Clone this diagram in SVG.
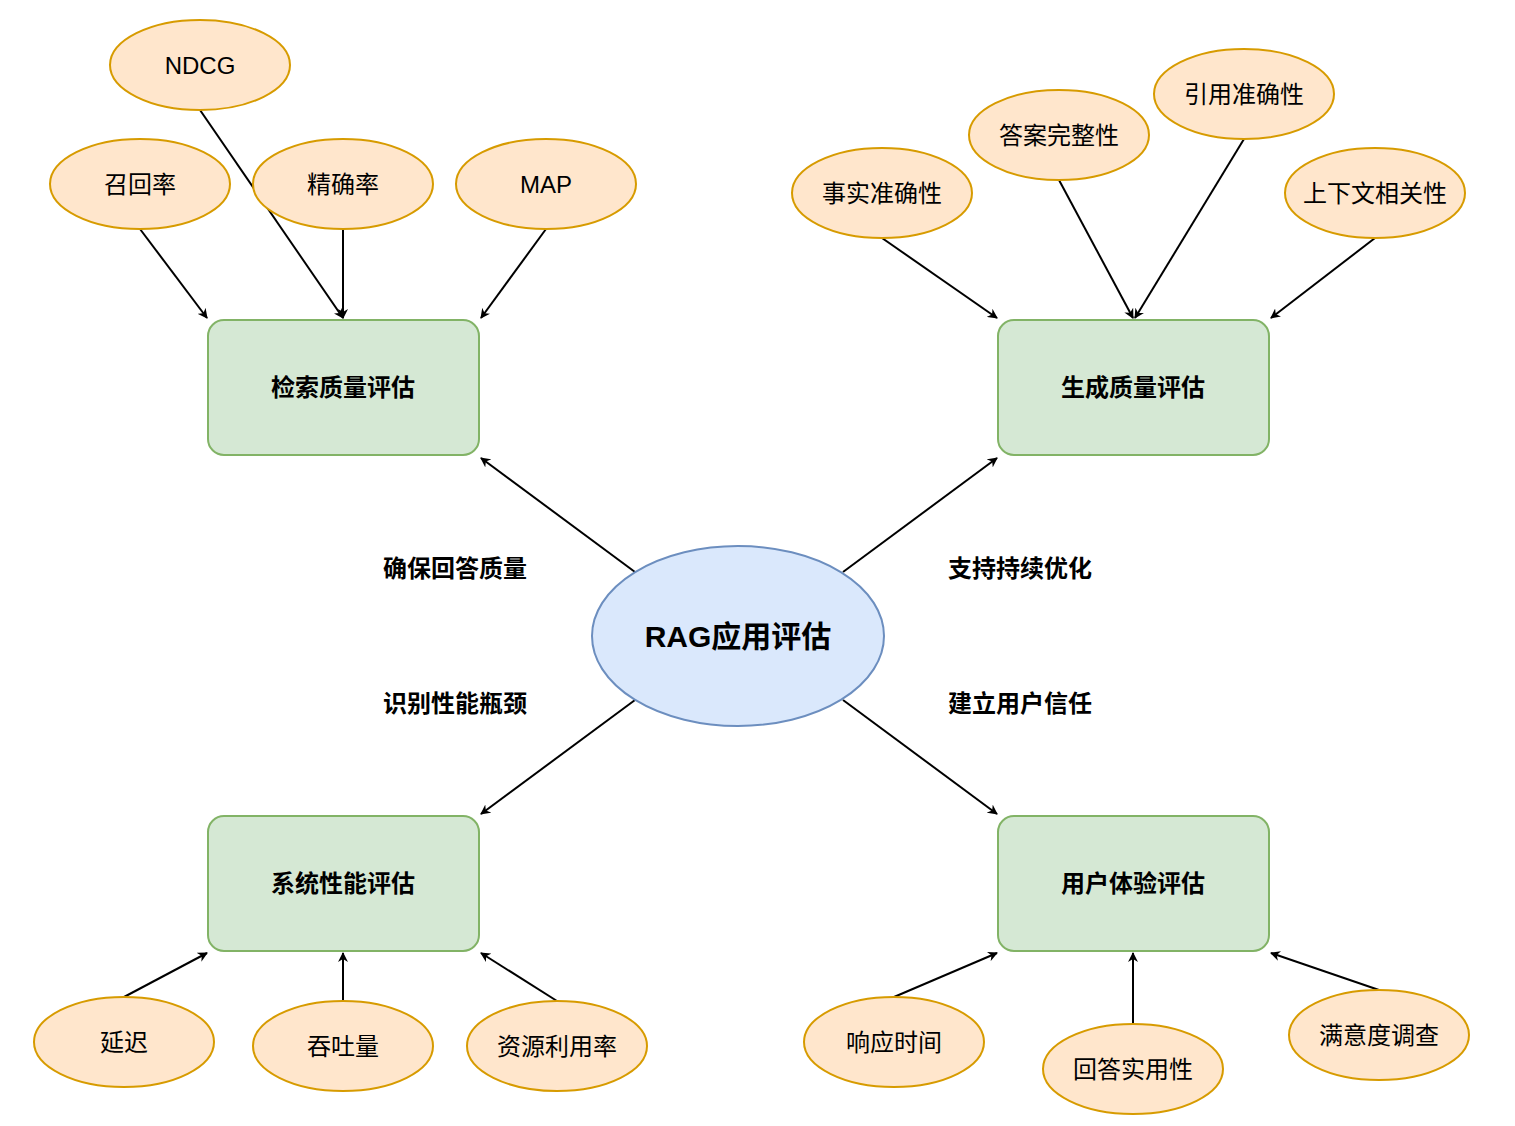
<svg xmlns="http://www.w3.org/2000/svg" width="1515" height="1126" viewBox="0 0 1515 1126">
<style>
text{font-family:"Liberation Sans","Noto Sans CJK SC",sans-serif;text-anchor:middle;dominant-baseline:central;fill:#000}
.o{fill:#ffe6cc;stroke:#d79b00;stroke-width:2}
.g{fill:#d5e8d4;stroke:#82b366;stroke-width:2}
.ot{font-size:24px}
.b{font-size:24px;font-weight:bold}
#edges line{stroke:#000;stroke-width:2;marker-end:url(#a)}
</style>
<defs><marker id="a" viewBox="0 0 10 10" refX="9" refY="5" markerWidth="10" markerHeight="10" markerUnits="userSpaceOnUse" orient="auto"><path d="M0,0 L10,5 L0,10 L3,5 z" fill="#000"/></marker></defs>
<rect width="1515" height="1126" fill="#fff"/>
<g id="edges">
<line x1="200" y1="110" x2="343" y2="318"/>
<line x1="140" y1="229" x2="207" y2="318"/>
<line x1="343" y1="229" x2="343" y2="318"/>
<line x1="546" y1="229" x2="481" y2="318"/>
<line x1="882" y1="238" x2="997" y2="318"/>
<line x1="1059" y1="180" x2="1133" y2="318"/>
<line x1="1244" y1="139" x2="1135" y2="318"/>
<line x1="1375" y1="238" x2="1271" y2="318"/>
<line x1="635" y1="572" x2="481" y2="458"/>
<line x1="843" y1="572" x2="997" y2="458"/>
<line x1="635" y1="700" x2="481" y2="814"/>
<line x1="843" y1="700" x2="997" y2="814"/>
<line x1="124" y1="997" x2="207" y2="953"/>
<line x1="343" y1="1001" x2="343" y2="953"/>
<line x1="557" y1="1001" x2="481" y2="953"/>
<line x1="894" y1="997" x2="997" y2="953"/>
<line x1="1133" y1="1024" x2="1133" y2="953"/>
<line x1="1379" y1="990" x2="1271" y2="953"/>
</g>
<g id="labels">
<text class="b" x="455" y="568">确保回答质量</text>
<text class="b" x="1020" y="568">支持持续优化</text>
<text class="b" x="455" y="703">识别性能瓶颈</text>
<text class="b" x="1020" y="703">建立用户信任</text>
</g>
<g id="center"><ellipse cx="738" cy="636" rx="146" ry="90" fill="#dae8fc" stroke="#6c8ebf" stroke-width="2"/><text x="738" y="636" style="font-size:30px;font-weight:bold">RAG应用评估</text></g>
<g id="n1"><rect class="g" x="208" y="320" width="271" height="135" rx="16"/><text class="b" x="343" y="387">检索质量评估</text></g>
<g id="n2"><rect class="g" x="998" y="320" width="271" height="135" rx="16"/><text class="b" x="1133" y="387">生成质量评估</text></g>
<g id="n3"><rect class="g" x="208" y="816" width="271" height="135" rx="16"/><text class="b" x="343" y="883">系统性能评估</text></g>
<g id="n4"><rect class="g" x="998" y="816" width="271" height="135" rx="16"/><text class="b" x="1133" y="883">用户体验评估</text></g>
<g id="e1"><ellipse class="o" cx="200" cy="65" rx="90" ry="45"/><text class="ot" x="200" y="65">NDCG</text></g>
<g id="e2"><ellipse class="o" cx="140" cy="184" rx="90" ry="45"/><text class="ot" x="140" y="184">召回率</text></g>
<g id="e3"><ellipse class="o" cx="343" cy="184" rx="90" ry="45"/><text class="ot" x="343" y="184">精确率</text></g>
<g id="e4"><ellipse class="o" cx="546" cy="184" rx="90" ry="45"/><text class="ot" x="546" y="184">MAP</text></g>
<g id="e5"><ellipse class="o" cx="882" cy="193" rx="90" ry="45"/><text class="ot" x="882" y="193">事实准确性</text></g>
<g id="e6"><ellipse class="o" cx="1059" cy="135" rx="90" ry="45"/><text class="ot" x="1059" y="135">答案完整性</text></g>
<g id="e7"><ellipse class="o" cx="1244" cy="94" rx="90" ry="45"/><text class="ot" x="1244" y="94">引用准确性</text></g>
<g id="e8"><ellipse class="o" cx="1375" cy="193" rx="90" ry="45"/><text class="ot" x="1375" y="193">上下文相关性</text></g>
<g id="e9"><ellipse class="o" cx="124" cy="1042" rx="90" ry="45"/><text class="ot" x="124" y="1042">延迟</text></g>
<g id="e10"><ellipse class="o" cx="343" cy="1046" rx="90" ry="45"/><text class="ot" x="343" y="1046">吞吐量</text></g>
<g id="e11"><ellipse class="o" cx="557" cy="1046" rx="90" ry="45"/><text class="ot" x="557" y="1046">资源利用率</text></g>
<g id="e12"><ellipse class="o" cx="894" cy="1042" rx="90" ry="45"/><text class="ot" x="894" y="1042">响应时间</text></g>
<g id="e13"><ellipse class="o" cx="1133" cy="1069" rx="90" ry="45"/><text class="ot" x="1133" y="1069">回答实用性</text></g>
<g id="e14"><ellipse class="o" cx="1379" cy="1035" rx="90" ry="45"/><text class="ot" x="1379" y="1035">满意度调查</text></g>
</svg>
